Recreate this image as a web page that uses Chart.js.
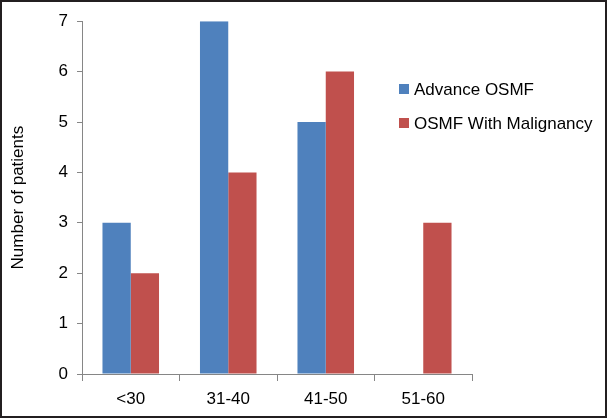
<!DOCTYPE html>
<html>
<head>
<meta charset="utf-8">
<script src="https://cdn.jsdelivr.net/npm/chart.js@4.4.0/dist/chart.umd.min.js"></script>
<style>
  html, body { margin: 0; padding: 0; background: #fff; }
  #wrap { width: 607px; height: 418px; box-sizing: border-box; border: 2px solid #231f20; }
  canvas { display: block; }
</style>
</head>
<body>
<div id="wrap"><canvas id="age-chart" width="603" height="414"></canvas></div>
<script>
const ageGroups = ["<30", "31-40", "41-50", "51-60"];
const advanceOsmf = [3, 7, 5, null];
const osmfMalignancy = [2, 4, 6, 3];
const yTicks = [0, 1, 2, 3, 4, 5, 6, 7];

const axisGrey = "#868686";
const font = { family: "'Liberation Sans', Arial, sans-serif", size: 17 };

// legend drawn inside the plot area, like the original
const insideLegend = {
    id: "insideLegend",
    afterDraw(chart) {
        const c = chart.ctx;
        c.save();
        c.font = "17px 'Liberation Sans', Arial, sans-serif";
        c.textBaseline = "middle";
        chart.data.datasets.forEach((ds, i) => {
            const y = 87 + i * 34;
            c.fillStyle = ds.backgroundColor;
            c.fillRect(397, y - 5, 10, 10);
            c.fillStyle = "#000";
            c.fillText(ds.label, 412, y + 1);
        });
        c.restore();
    },
};

new Chart(document.getElementById("age-chart"), {
    type: "bar",
    data: {
        labels: ageGroups,
        datasets: [
            {
                label: "Advance OSMF",
                data: advanceOsmf,
                backgroundColor: "#4f81bd",
                categoryPercentage: 0.58,
                barPercentage: 1,
            },
            {
                label: "OSMF With Malignancy",
                data: osmfMalignancy,
                backgroundColor: "#c0504d",
                categoryPercentage: 0.58,
                barPercentage: 1,
            },
        ],
    },
    options: {
        responsive: false,
        animation: false,
        layout: { padding: { left: 0, right: 133, top: 16.5, bottom: 0 } },
        plugins: {
            legend: { display: false },
            tooltip: { enabled: false },
        },
        scales: {
            x: {
                grid: { drawOnChartArea: false, drawTicks: true, tickLength: 7, color: axisGrey, offset: true },
                border: { color: axisGrey, width: 1 },
                ticks: { color: "#000", font, padding: 8 },
                afterFit: (s) => { s.height = 42; },
            },
            y: {
                min: 0,
                max: 7,
                afterBuildTicks: (s) => { s.ticks = yTicks.map((v) => ({ value: v })); },
                grid: { drawOnChartArea: false, drawTicks: true, tickLength: 5, color: axisGrey },
                border: { color: axisGrey, width: 1 },
                ticks: { color: "#000", font, padding: 9 },
                title: { display: true, text: "Number of patients", color: "#000", font, padding: { top: 6, bottom: 0 } },
                afterFit: (s) => { s.width = 80; },
            },
        },
    },
    plugins: [insideLegend],
});
</script>
</body>
</html>
